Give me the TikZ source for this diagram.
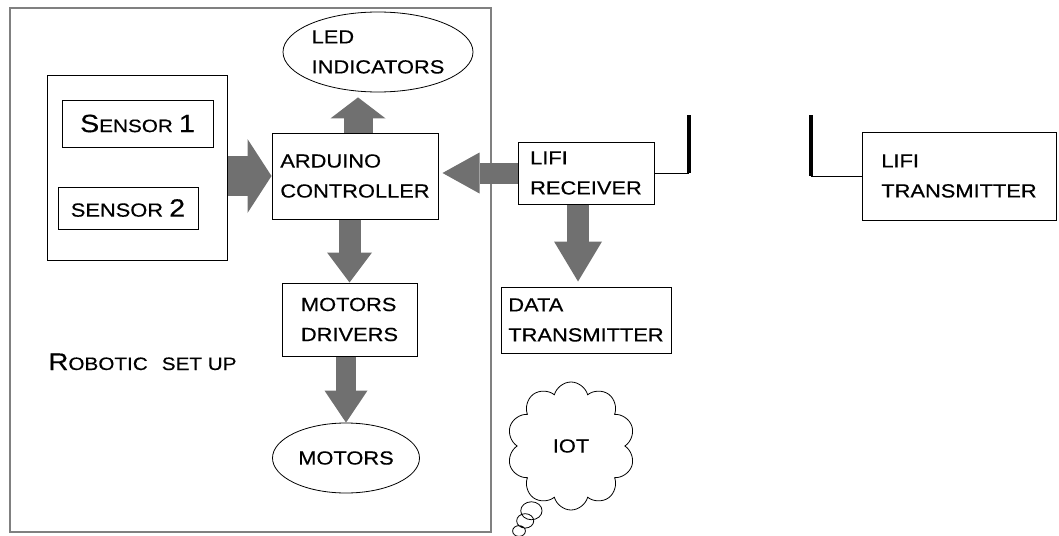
\documentclass[tikz,border=0pt]{standalone}
\usepackage{fontspec}
\setmainfont{Liberation Sans}[FakeStretch=1.15, FakeBold=0.4]
\usetikzlibrary{calc,arrows.meta,shapes.geometric,shapes.callouts}
\definecolor{arrowgray}{RGB}{112,112,112}
\definecolor{framegray}{RGB}{128,128,128}
\newcommand{\capsz}[2]{{\fontsize{#1}{#1}\selectfont #2}}

\begin{document}
\begin{tikzpicture}[x=1pt, y=-1pt, line width=1pt,
    every node/.style={font=\fontsize{19}{30}\selectfont, align=left, inner sep=0pt},
    block/.style={draw, rectangle},
    oval/.style={draw, ellipse, line width=0.8pt},
    fatarrow/.style n args={3}{arrowgray, line width=#1, -{Triangle[length=#2, width=#3, line width=0pt]}},
    antenna/.style={line width=3.5pt}]
    \useasboundingbox (0,0) rectangle (1059,535);

    % Robotic set up
    \node (robot) at (250.5,270) [draw=framegray, line width=2.5pt, minimum width=481pt, minimum height=524pt] {};
    \node (setup) [anchor=base west] at (48,370) {\capsz{24}{R}\capsz{18}{OBOTIC}\hspace{14pt}\capsz{18}{SET UP}};

    % Sensors
    \node (sens) at (137,167.5) [block, minimum width=180pt, minimum height=185pt] {};
    \node (s1) at (137.5,123.5) [block, minimum width=151pt, minimum height=47pt] {\capsz{25}{S}\capsz{18}{ENSOR} \capsz{25}{1}};
    \node (s2) at (128,208) [block, minimum width=140pt, minimum height=42pt] {\capsz{19}{SENSOR} \capsz{25}{2}};

    % Controller and outputs
    \node (ardu) at (355,176) [block, minimum width=166pt, minimum height=86pt] {ARDUINO\\CONTROLLER};
    \node (led) at (378,52) [oval, minimum width=190pt, minimum height=80pt] {LED\\INDICATORS};
    \node (drv) at (349.5,319.5) [block, minimum width=135pt, minimum height=73pt] {MOTORS\\DRIVERS};
    \node (mot) at (346,458) [oval, minimum width=147pt, minimum height=70pt] {MOTORS};

    % Lifi link
    \node (rx) at (586,173) [block, minimum width=136pt, minimum height=62pt] {LIFI\\RECEIVER};
    \node (data) at (586,320) [block, minimum width=170pt, minimum height=66pt] {DATA\\TRANSMITTER};
    \node (tx) at (959,176) [block, minimum width=194pt, minimum height=88pt] {LIFI\\TRANSMITTER};
    \coordinate (rxa) at (689,115);
    \coordinate (txa) at (811,115);
    \draw (rx.east) -- (rx.east -| rxa);
    \draw [antenna] (rxa) -- (rxa |- rx.east);
    \draw (tx.west) -- (tx.west -| txa);
    \draw [antenna] (txa) -- (txa |- tx.west);

    % Cloud
    \node (iot) at (571,446) [cloud callout, draw, line width=0.8pt, cloud puffs=10, aspect=1,
        minimum width=128pt, minimum height=128pt, callout absolute pointer={(519,531)},
        callout pointer segments=3] {IOT};

    % Block arrows
    \draw [fatarrow={40pt}{24pt}{74pt}] (sens.east |- ardu.west) -- (ardu.west);
    \draw [fatarrow={29pt}{21pt}{55pt}] ($(ardu.north)+(3,0)$) -- ($(led.south)+(-20,5)$);
    \draw [fatarrow={22pt}{30pt}{45pt}] (drv.north |- ardu.south) -- (drv.north);
    \draw [fatarrow={20pt}{32pt}{43pt}] (mot.north |- drv.south) -- (mot.north);
    \draw [fatarrow={21pt}{37pt}{41pt}] (rx.west) -- ($(ardu.east |- rx.west)+(4,0)$);
    \draw [fatarrow={22pt}{40pt}{48pt}] ($(rx.south)+(-8,0)$) -- ($(data.north)+(-8,-5)$);
\end{tikzpicture}
\end{document}
